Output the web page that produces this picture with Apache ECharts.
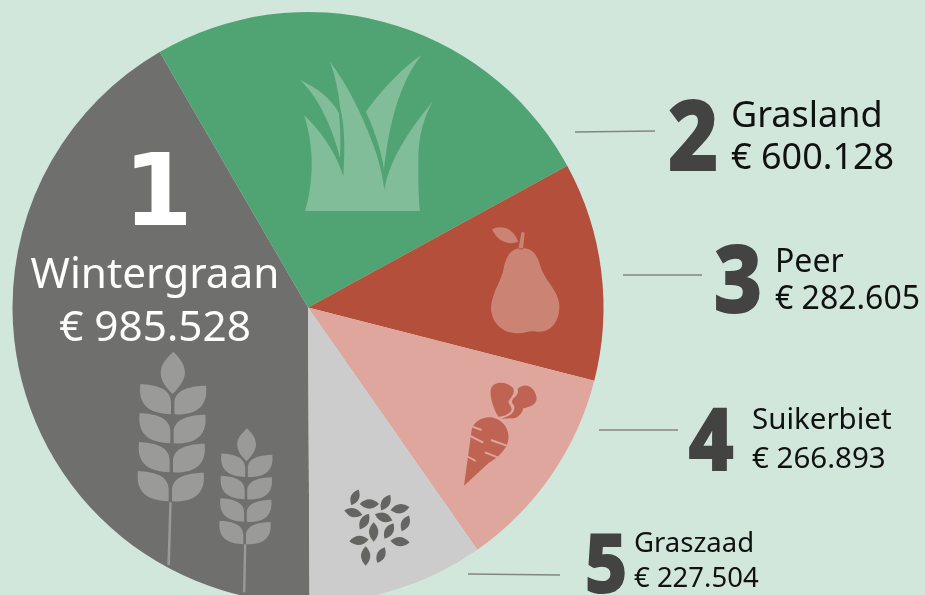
<!DOCTYPE html>
<html><head><meta charset="utf-8">
<style>html,body{margin:0;padding:0;background:#d2e7dc}#c{width:925px;height:595px}</style>
<script src="https://cdn.jsdelivr.net/npm/echarts@6/dist/echarts.min.js"></script>
</head><body><div id="c"></div>
<script>
const categories = ['Wintergraan','Grasland','Peer','Suikerbiet','Graszaad'];
const values = [985528,600128,282605,266893,227504];
const ranks = ['1','2','3','4','5'];
const sliceColors = ['#6f6f6e','#50a372','#b44f3b','#dea69c','#cccccc'];

const FONT = '"Noto Sans", sans-serif';
const euro = v => '€ ' + String(v).replace(/\B(?=(\d{3})+$)/g, '.');

// label layout: rank x/baseline/size, name x/baseline, value baseline, text size, leader line
const labelLayout = [
  {rx:158,ry:228,rs:100,sx:1,font:'"DejaVu Sans"',ra:'center',align:'center',nx:155,ny:289,vy:342,ts:42.3,color:'#ffffff',rankColor:'#ffffff'},
  {rx:693,ry:170,rs:96,sx:.9,ra:'center',align:'left',nx:731,ny:128,vy:170,ts:36,line:[575,132,655,131]},
  {rx:738,ry:312,rs:92,sx:.9,ra:'center',align:'left',nx:775,ny:272,vy:309,ts:32,line:[623,275,702,275]},
  {rx:711,ry:470,rs:86,sx:.9,ra:'center',align:'left',nx:752,ny:429,vy:468,ts:29.5,line:[599,430,678,430]},
  {rx:606,ry:592,rs:81,sx:.9,ra:'center',align:'left',nx:634,ny:552,vy:587,ts:27.5,line:[468,574,560,575]}
];

const grassPath = 'M45,483 C62,430 70,350 62,290 C58,250 50,220 42,195 C85,235 135,300 160,378 C165,300 165,230 150,170 C145,120 135,75 120,35 C170,100 215,190 250,285 C265,325 278,375 283,420 C295,345 340,260 428,155 C400,205 385,260 385,330 C385,390 385,440 390,483 Z '
  + 'M30,90 C75,110 125,145 147,190 C152,240 152,290 150,325 C135,260 95,150 30,90 Z '
  + 'M395,15 C340,50 270,125 228,185 C250,235 275,300 282,360 C290,290 310,120 395,15 Z';
const pearPath = 'M130,85 C95,82 80,105 72,140 C65,185 35,215 33,265 C35,315 75,342 115,340 C140,338 150,330 170,335 C215,340 240,300 238,255 C235,210 195,185 180,135 C170,100 155,85 130,85 Z '
  + 'M115,88 L125,35 L134,38 L129,88 Z M36,28 C55,18 95,15 115,65 C90,75 55,70 36,28 Z';
const beetBody = 'M27,332 L50,165 C55,140 85,122 115,128 C145,135 165,165 160,195 C155,225 125,250 100,265 Z';
const beetLeaves = 'M130,125 C115,100 105,70 107,45 C112,20 150,15 175,40 C180,55 170,65 163,75 C155,85 170,90 170,105 C165,115 150,125 130,125 Z '
  + 'M188,42 C205,22 240,30 245,70 C245,90 220,98 205,100 C200,120 185,133 165,130 C155,130 145,132 140,130 C160,125 180,115 178,95 C175,85 165,85 175,70 C190,60 190,50 188,42 Z';
const beetStripes = 'M52,155 L80,165 M40,180 L85,203 M108,195 L155,212 M90,232 L130,248 M35,243 L62,258';
const wheatTop = 'M160,20 C175,35 195,55 195,85 C192,110 175,130 158,147 C140,130 122,110 122,82 C122,55 145,35 160,20 Z';
const wheatLeaves = 'M61,117 C105,120 152,128 153,172 L153,208 C100,205 52,190 61,117 Z M258,122 C215,123 165,132 163,172 L163,208 C215,210 266,195 258,122 Z';
const seeds = [[60,52,-65,52],[103,72,0,58],[152,68,-60,54],[195,86,-10,58],[55,98,15,56],[88,125,-60,54],[146,112,20,56],
  [116,156,90,58],[162,153,-60,54],[211,130,-65,52],[72,181,-5,58],[195,185,5,58],[92,228,90,58],[138,225,-65,52]];

function p(d, fill, extra) {
  return Object.assign({type:'path', shape:{pathData:d}, style:{fill}, silent:true}, extra||{});
}
function wheat(x, y, s, fill) {
  const kids = [p(wheatTop, fill)];
  [[0,0],[-2,87],[-4,174],[-7,261]].forEach(o => kids.push(p(wheatLeaves, fill, {x:o[0], y:o[1]})));
  return {type:'group', x, y, scaleX:s, scaleY:s, children:kids};
}
function icons() {
  const k = 1/3;
  return {type:'group', children:[
    p(grassPath,'#80bd98',{x:290,y:50,scaleX:k,scaleY:k}),
    p(pearPath,'#cb8474',{x:480,y:220,scaleX:k,scaleY:k}),
    {type:'group',x:455,y:375,scaleX:k,scaleY:k,children:[
      p(beetLeaves,'#bf6453'), p(beetBody,'#bf6453'),
      {type:'path',shape:{pathData:beetStripes},style:{fill:null,stroke:'#dea69c',lineWidth:6},silent:true}
    ]},
    {type:'group',x:335,y:480,scaleX:k,scaleY:k,children:seeds.map(s=>{
      const L=s[3]/2,W=s[3]*0.48;
      return p(`M${-L},0 Q0,${-W} ${L},0 Q0,${W} ${-L},0 Z`,'#646463',{x:s[0],y:s[1],rotation:-s[2]*Math.PI/180});
    })},
    {type:'group',x:120,y:345,scaleX:k,scaleY:k,children:[
      wheat(0,0,1,'#9a9a99'),
      p('M148,472 L155,472 L150,660 L142,660 Z','#9a9a99'),
      wheat(257,234.5,0.775,'#9a9a99'),
      p('M372,598 L379,598 L376,742 L369,742 Z','#9a9a99')
    ]}
  ]};
}

const BASE = 0.30; // em distance from text middle to baseline
const texts = [], lines = [];
categories.forEach((c,i)=>{
  const l = labelLayout[i];
  const col = l.color || '#111111';
  const rc = l.rankColor||'#434342';
  texts.push({type:'text',x:l.rx,y:l.ry-0.29*l.rs,scaleX:l.sx,originX:0,silent:true,style:{text:ranks[i],font:`800 ${l.rs}px ${l.font||FONT}`,fill:rc,stroke:l.font?null:rc,lineWidth:l.font?0:2,align:l.ra,verticalAlign:'middle'}});
  texts.push({type:'text',x:l.nx,y:l.ny-BASE*l.ts,silent:true,style:{text:c,font:`400 ${l.ts}px ${FONT}`,fill:col,align:l.align,verticalAlign:'middle'}});
  texts.push({type:'text',x:l.nx,y:l.vy-BASE*l.ts,silent:true,style:{text:euro(values[i]),font:`400 ${l.ts}px ${FONT}`,fill:col,align:l.align,verticalAlign:'middle'}});
  if(l.line) lines.push({type:'line',silent:true,shape:{x1:l.line[0],y1:l.line[1],x2:l.line[2],y2:l.line[3]},style:{stroke:'#85857f',lineWidth:1.5}});
});

const chart = echarts.init(document.getElementById('c'),null,{renderer:'canvas'});
chart.setOption({
  animation:false,
  backgroundColor:'#d2e7dc',
  tooltip:{show:false},
  graphic:{elements:texts.concat(lines).map(e=>Object.assign(e,{z:10}))},
  series:[
    {type:'pie',center:[308,307.5],radius:[0,295.5],startAngle:270.3,clockwise:true,silent:true,
     label:{show:false},labelLine:{show:false},
     data:categories.map((c,i)=>({name:c,value:values[i],itemStyle:{color:sliceColors[i]}}))},
    {type:'custom',coordinateSystem:'none',silent:true,z:5,data:[0],renderItem:()=>icons()}
  ]
});
</script></body></html>
